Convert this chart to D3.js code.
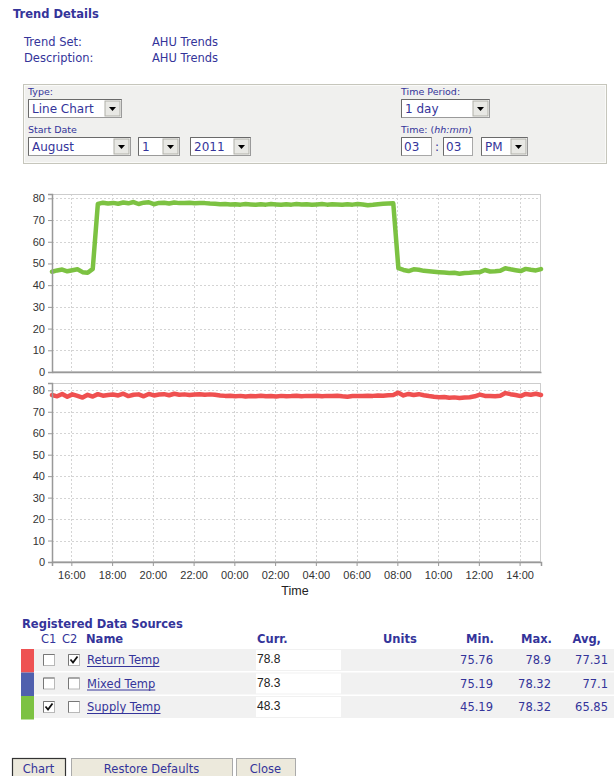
<!DOCTYPE html>
<html><head><meta charset="utf-8">
<script src="https://cdn.jsdelivr.net/npm/d3@7/dist/d3.min.js"></script>
<style>
html,body{margin:0;padding:0;background:#fff;}
svg{display:block;}
</style></head>
<body>
<svg id="page" width="614" height="776"></svg>
<script>
// ---------------- DATA ----------------
const startTime = "2011-08-01T15:03";
const endTime = "2011-08-02T15:03";
const stepMinutes = 15;
const yTicks = [0,10,20,30,40,50,60,70,80];
const supplyTemp = [
 46.2,46.8,47.2,46.4,46.9,47.3,46.0,45.7,47.5,
 77.4,78.0,77.6,77.9,77.5,78.1,77.7,78.3,77.4,78.0,78.2,77.3,77.9,78.0,77.6,78.1,77.8,77.9,78.0,77.7,77.9,77.8,77.6,
 77.5,77.3,77.4,77.2,77.3,77.1,77.4,77.2,77.0,77.3,77.1,77.4,77.2,77.0,77.3,77.1,77.4,77.2,77.3,77.0,77.2,77.4,77.1,77.3,77.2,77.0,77.3,77.1,77.4,77.2,76.8,77.0,77.3,77.5,77.6,77.7,
 47.8,47.0,46.5,47.3,47.1,46.6,46.4,46.2,46.0,45.8,45.6,45.7,45.3,45.6,45.7,45.9,46.0,47.0,46.3,46.4,46.6,47.8,47.3,46.9,46.5,47.5,47.1,46.8,47.4
];
const returnTemp = [
 77.8,77.2,78.3,77.0,78.1,77.4,76.6,77.9,77.1,78.2,77.5,77.8,78.0,77.6,78.4,77.3,77.9,78.1,77.2,78.3,77.6,78.0,78.2,77.7,78.4,77.9,78.1,77.8,78.0,78.2,77.9,78.1,
 77.9,77.6,77.4,77.5,77.2,77.4,77.1,77.3,77.2,77.5,77.2,77.3,77.1,77.4,77.2,77.3,77.5,77.2,77.4,77.3,77.5,77.2,77.4,77.3,77.5,77.2,77.0,77.3,77.4,77.3,77.5,77.4,77.6,77.5,77.7,77.8,
 78.9,77.6,78.3,77.8,78.2,77.7,77.3,77.0,76.8,76.9,76.5,76.7,76.4,76.6,76.8,77.2,78.0,77.4,77.3,77.2,77.5,78.7,78.2,77.8,77.3,78.3,77.9,78.4,77.8
];
const sourceNames = ["Return Temp","Mixed Temp","Supply Temp"];
const sourceColors = ["#ee5253","#5060ae","#7cc242"];
const sourceC1 = [false,false,true];
const sourceC2 = [true,false,false];
const sourceCurr = ["78.8","78.3","48.3"];
const sourceMin = ["75.76","75.19","45.19"];
const sourceMax = ["78.9","78.32","78.32"];
const sourceAvg = ["77.31","77.1","65.85"];
const buttonLabels = ["Chart","Restore Defaults","Close"];

// ---------------- DRAW ----------------
const svg = d3.select("#page");
const UI = "'DejaVu Sans', Verdana, sans-serif";
const BLUE = "#34349a";
const CH = "'Liberation Sans', Arial, sans-serif";

function txt(x,y,s,opt={}){
  return svg.append("text").attr("x",x).attr("y",y).text(s)
    .attr("font-family",opt.family||UI).attr("font-size",opt.size||12)
    .attr("font-weight",opt.weight||"normal").attr("fill",opt.fill||BLUE)
    .attr("text-anchor",opt.anchor||"start").attr("dominant-baseline","middle")
    .attr("font-style",opt.style||"normal");
}

// Header
txt(13,14,"Trend Details",{weight:"bold",size:11.5});
txt(24,42,"Trend Set:",{size:11.5});
txt(152,42,"AHU Trends",{size:11.5});
txt(24,58,"Description:",{size:11.5});
txt(152,58,"AHU Trends",{size:11.5});

// Form box
svg.append("rect").attr("x",23.5).attr("y",84.5).attr("width",583).attr("height",79)
  .attr("fill","#f0f0ee").attr("stroke","#c6c6bc");
svg.append("rect").attr("x",24.5).attr("y",85.5).attr("width",581).attr("height",77)
  .attr("fill","none").attr("stroke","#fafaf8");

function selectBox(x,y,w,label){
  const h=18;
  svg.append("rect").attr("x",x+0.5).attr("y",y+0.5).attr("width",w).attr("height",h)
    .attr("fill","#fff").attr("stroke","#9a9a9a");
  svg.append("path").attr("d",`M${x+0.5},${y+h+0.5}V${y+0.5}H${x+w+0.5}`).attr("stroke","#6a6a6a").attr("fill","none");
  txt(x+4,y+10,label,{size:12});
  const bx=x+w-16;
  svg.append("rect").attr("x",bx).attr("y",y+2).attr("width",15).attr("height",h-3)
    .attr("fill","#e8e8e4").attr("stroke","#b0b0a8");
  svg.append("path").attr("d",`M${bx+4},${y+8}h7l-3.5,4z`).attr("fill","#000");
}
function inputBox(x,y,w,label){
  const h=18;
  svg.append("rect").attr("x",x+0.5).attr("y",y+0.5).attr("width",w).attr("height",h)
    .attr("fill","#fff").attr("stroke","#a8a8a8");
  svg.append("path").attr("d",`M${x+0.5},${y+h+0.5}V${y+0.5}H${x+w+0.5}`).attr("stroke","#6a6a6a").attr("fill","none");
  txt(x+3,y+10,label,{size:12});
}
txt(28,92,"Type:",{size:9.5});
selectBox(28,99,93,"Line Chart");
txt(28,130,"Start Date",{size:9.5});
selectBox(28,137,102,"August");
selectBox(138,137,41,"1");
selectBox(190,137,60,"2011");
txt(401,92,"Time Period:",{size:9.5});
selectBox(401,99,88,"1 day");
const tl = txt(401,130,"Time: (",{size:9.5});
tl.append("tspan").attr("font-style","italic").text("hh:mm");
tl.append("tspan").text(")");
inputBox(401,137,30,"03");
txt(435,147,":",{size:12});
inputBox(443,137,29,"03");
selectBox(481,137,46,"PM");

// ---------------- Charts ----------------
const parse = d3.timeParse("%Y-%m-%dT%H:%M");
const t0 = parse(startTime), t1 = parse(endTime);
const times = supplyTemp.map((_,i)=>d3.timeMinute.offset(t0,i*stepMinutes));
const x = d3.scaleTime().domain([t0,t1]).range([52,541]);
const xTicks = x.ticks(d3.timeHour.every(2));
const fmt = d3.timeFormat("%H:%M");

function panel(top,bottom,ymax,values,color,showX){
  const y = d3.scaleLinear().domain([0,ymax]).range([bottom,top]);
  const g = svg.append("g");
  g.append("rect").attr("x",52).attr("y",top).attr("width",489).attr("height",bottom-top).attr("fill","#fff");
  // grid
  g.selectAll(".hg").data(yTicks).join("line")
    .attr("x1",52).attr("x2",541).attr("y1",d=>Math.round(y(d))+0.5).attr("y2",d=>Math.round(y(d))+0.5)
    .attr("stroke","#d4d4d4").attr("stroke-dasharray","2,2");
  g.selectAll(".vg").data(xTicks).join("line")
    .attr("y1",top).attr("y2",bottom).attr("x1",d=>Math.round(x(d))+0.5).attr("x2",d=>Math.round(x(d))+0.5)
    .attr("stroke","#d4d4d4").attr("stroke-dasharray","2,2");
  // border
  g.append("rect").attr("x",52.5).attr("y",top+0.5).attr("width",488).attr("height",bottom-top-1)
    .attr("fill","none").attr("stroke","#cdcdcd");
  // line
  const line = d3.line().x((d,i)=>x(times[i])).y(d=>y(d));
  g.append("path").datum(values).attr("d",line).attr("fill","none")
    .attr("stroke",color).attr("stroke-width",4.5).attr("stroke-linejoin","round").attr("stroke-linecap","round");
  // y axis
  const ya = g.append("g").attr("transform","translate(52,0)")
    .call(d3.axisLeft(y).tickValues(yTicks).tickSize(4).tickPadding(3));
  ya.select(".domain").attr("stroke","#999").attr("stroke-width",1.5);
  ya.selectAll(".tick line").attr("stroke","#999");
  ya.selectAll("text").attr("font-family",CH).attr("font-size",11).attr("fill","#333");
  // x axis line
  const xa = g.append("g").attr("transform",`translate(0,${bottom})`)
    .call(d3.axisBottom(x).tickValues(xTicks).tickFormat(showX?fmt:"").tickSize(showX?4:0).tickPadding(5));
  xa.select(".domain").attr("stroke","#999").attr("stroke-width",1.5);
  xa.selectAll(".tick line").attr("stroke","#999");
  xa.selectAll("text").attr("font-family",CH).attr("font-size",11).attr("fill","#333");
}
panel(194,372,82,supplyTemp,"#7cc242",false);
panel(383,562,83.4,returnTemp,"#ef5050",true);
txt(295,592,"Time",{family:CH,size:12.5,fill:"#222",anchor:"middle"});

// ---------------- Table ----------------
txt(22,624,"Registered Data Sources",{weight:"bold",size:11.5});
txt(41,639,"C1",{size:11.5});
txt(62,639,"C2",{size:11.5});
txt(86,639,"Name",{weight:"bold",size:11.5});
txt(257,639,"Curr.",{weight:"bold",size:11.5});
txt(383,639,"Units",{weight:"bold",size:11.5});
txt(494,639,"Min.",{weight:"bold",size:11.5,anchor:"end"});
txt(552,639,"Max.",{weight:"bold",size:11.5,anchor:"end"});
txt(601,639,"Avg,",{weight:"bold",size:11.5,anchor:"end"});

function checkbox(x,y,checked){
  svg.append("rect").attr("x",x+0.5).attr("y",y+0.5).attr("width",11).attr("height",11)
    .attr("fill","#fff").attr("stroke","#b8b8b8");
  svg.append("path").attr("d",`M${x+0.5},${y+11.5}V${y+0.5}H${x+11.5}`).attr("stroke","#777").attr("fill","none");
  if(checked) svg.append("path").attr("d",`M${x+2.5},${y+5.5}l2.5,3l4.5,-6`).attr("stroke","#111")
    .attr("stroke-width",1.8).attr("fill","none");
}
sourceNames.forEach((n,i)=>{
  const ry = 649 + i*23.5;
  svg.append("rect").attr("x",33).attr("y",ry).attr("width",581).attr("height",22).attr("fill","#f1f1f1");
  svg.append("rect").attr("x",21).attr("y",ry).attr("width",13).attr("height",23.5).attr("fill",sourceColors[i]);
  checkbox(43,ry+5,sourceC1[i]);
  checkbox(68,ry+5,sourceC2[i]);
  const t = txt(87,ry+11.5,n,{size:11.5});
  const w = t.node().getComputedTextLength();
  svg.append("line").attr("x1",87).attr("x2",87+w).attr("y1",ry+17.5).attr("y2",ry+17.5).attr("stroke",BLUE);
  svg.append("rect").attr("x",256).attr("y",ry+1).attr("width",85).attr("height",20).attr("fill","#fff");
  txt(257,ry+11,sourceCurr[i],{family:CH,size:12,fill:"#222"});
  txt(493,ry+11.5,sourceMin[i],{size:11.5,anchor:"end"});
  txt(551,ry+11.5,sourceMax[i],{size:11.5,anchor:"end"});
  txt(608,ry+11.5,sourceAvg[i],{size:11.5,anchor:"end"});
});

// ---------------- Buttons ----------------
const btnX = [12,71,236], btnW = [53,161,59];
buttonLabels.forEach((b,i)=>{
  svg.append("rect").attr("x",btnX[i]+0.5).attr("y",758.5).attr("width",btnW[i]).attr("height",22)
    .attr("fill","#ece9dc").attr("stroke",i===0?"#333":"#aaa").attr("stroke-width",i===0?1.2:1);
  txt(btnX[i]+btnW[i]/2,769,b,{size:11.5,anchor:"middle"});
});
</script>
</body></html>
